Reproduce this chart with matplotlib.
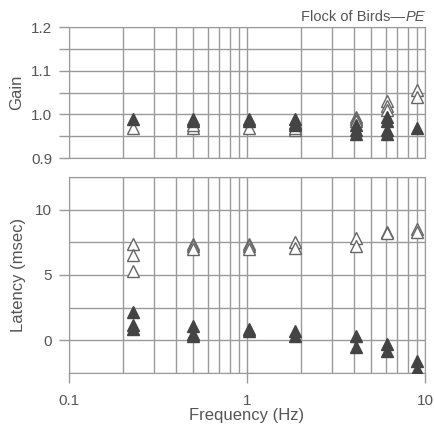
import matplotlib
matplotlib.use("Agg")
import matplotlib.pyplot as plt
from matplotlib.ticker import FixedLocator, NullFormatter

plt.rcParams['font.family'] = ['Liberation Sans', 'DejaVu Sans']

# frequencies (Hz) of each test group
freq = [0.23, 0.5, 1.02, 1.86, 4.1, 6.1, 9.0]

# gain, open (hollow) and filled triangles per frequency
gain_open = [[0.97], [0.97, 0.975], [0.97], [0.965, 0.97],
             [0.995, 0.99, 0.985], [1.03, 1.02, 1.01], [1.055, 1.04]]
gain_fill = [[0.99], [0.99, 0.985], [0.99, 0.985], [0.99, 0.98, 0.975],
             [0.975, 0.965, 0.955], [0.995, 0.985, 0.965, 0.955], [0.97]]

# latency (msec)
lat_open = [[7.4, 6.5, 5.3], [7.4, 7.2, 7.0], [7.4, 7.2, 7.0], [7.5, 7.1],
            [7.8, 7.2], [8.3, 8.2], [8.5, 8.3]]
lat_fill = [[2.2, 1.2, 0.9], [1.1, 0.5, 0.3], [0.9, 0.7], [0.7, 0.3],
            [0.3, -0.5], [-0.3, -0.8], [-1.6, -2.2]]

txt = '#555555'
gridc = '#9a9a9a'
fillc = '#444444'
openc = '#666666'

fig = plt.figure(figsize=(4.35, 4.25), dpi=100)
ax1 = fig.add_axes([0.1586, 0.628, 0.8184, 0.3082])
ax2 = fig.add_axes([0.1586, 0.1224, 0.8184, 0.4611])

minor = [0.2, 0.3, 0.4, 0.5, 0.6, 0.7, 0.8, 0.9, 2, 3, 4, 5, 6, 7, 8, 9]


def style(ax):
    ax.set_xscale('log')
    ax.set_xlim(0.1, 10)
    ax.xaxis.set_major_locator(FixedLocator([0.1, 1, 10]))
    ax.xaxis.set_minor_locator(FixedLocator(minor))
    ax.xaxis.set_minor_formatter(NullFormatter())
    ax.grid(True, which='both', color=gridc, lw=1.0)
    ax.tick_params(which='minor', length=0)
    ax.tick_params(which='major', length=7, color=gridc, labelcolor=txt,
                   labelsize=11, width=1, pad=5)
    ax.tick_params(axis='x', pad=8)
    for s in ax.spines.values():
        s.set_color(gridc)
    ax.set_axisbelow(True)


def draw(ax, opn, fil):
    for f, vals in zip(freq, opn):
        ax.plot([f] * len(vals), vals, linestyle='none', marker='^', ms=8.5,
                mfc='white', mec=openc, mew=1.0, zorder=3)
    for f, vals in zip(freq, fil):
        ax.plot([f] * len(vals), vals, linestyle='none', marker='^', ms=8.5,
                mfc=fillc, mec=fillc, zorder=4)


style(ax1)
ax1.set_ylim(0.9, 1.2)
ax1.set_yticks([0.9, 0.95, 1.0, 1.05, 1.1, 1.15, 1.2])
ax1.set_yticklabels(['0.9', '', '1.0', '', '1.1', '', '1.2'])
ax1.tick_params(axis='x', length=0, labelbottom=False)
draw(ax1, gain_open, gain_fill)
ax1.set_ylabel('Gain', color=txt, fontsize=12, labelpad=5)
pe = ax1.text(1.0, 1.02, 'PE', transform=ax1.transAxes, ha='right',
              va='bottom', color=txt, fontsize=10.5, style='italic')
ax1.annotate('Flock of Birds\u2014', xy=(0, 0), xycoords=pe, ha='right',
             va='bottom', color=txt, fontsize=10.5)

style(ax2)
ax2.set_ylim(-2.5, 12.5)
ax2.set_yticks([0, 5, 10])
ax2.set_yticks([-2.5, 2.5, 7.5, 12.5], minor=True)
draw(ax2, lat_open, lat_fill)
ax2.set_xticklabels(['0.1', '1', '10'])
ax2.set_ylabel('Latency (msec)', color=txt, fontsize=12, labelpad=7)
ax2.set_xlabel('Frequency (Hz)', color=txt, fontsize=12, labelpad=0)

fig.savefig('out.png', dpi=100)
